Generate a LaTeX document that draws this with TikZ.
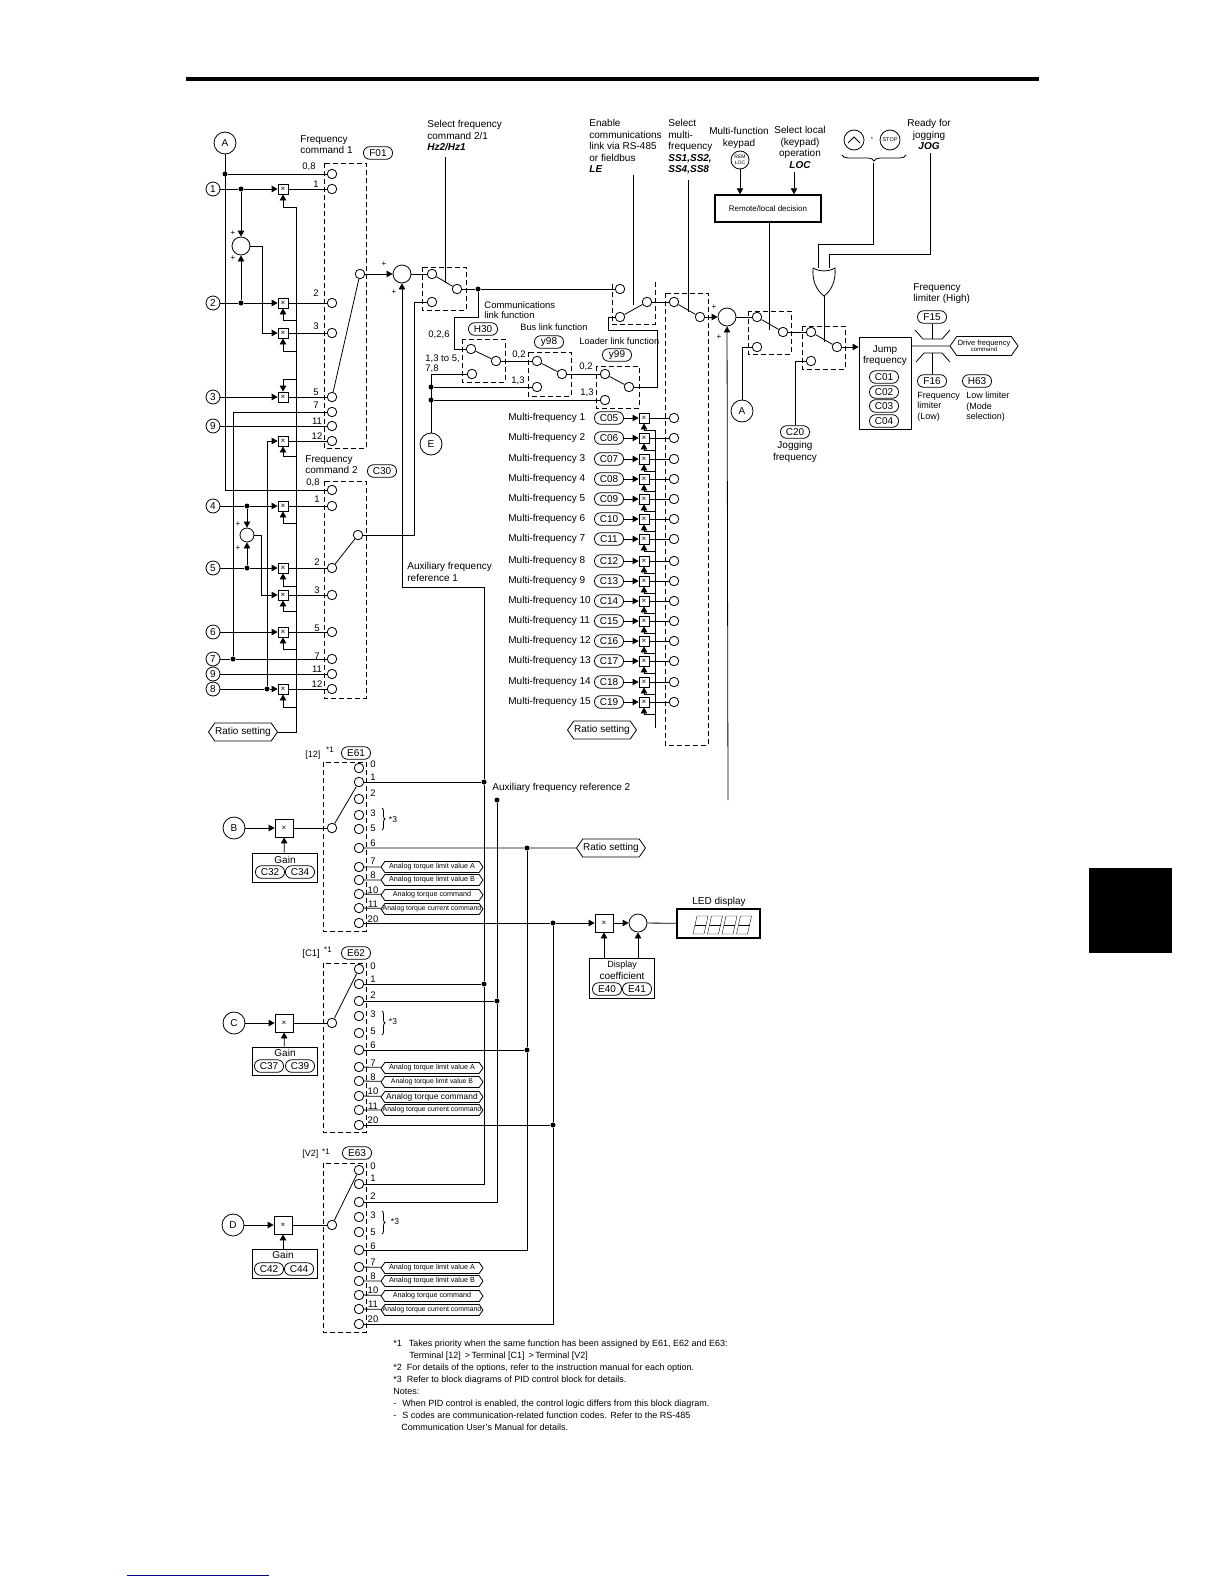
\documentclass[tikz,border=0pt]{standalone}
\usepackage{fontspec}
\setmainfont{Liberation Sans}
\usetikzlibrary{arrows.meta,shapes.symbols,decorations.pathreplacing}
\definecolor{footblue}{RGB}{0,0,140}
\tikzset{
  tip/.style={-{Triangle[length=6pt,width=6.5pt]}},
  swbox/.style={dash pattern=on 5pt off 3pt},
  port/.style={draw,circle,minimum size=9.5pt,inner sep=0pt},
  term/.style={draw,circle,minimum size=14pt,inner sep=0pt},
  keyc/.style={draw,circle,minimum size=22pt,inner sep=0pt},
  sumpt/.style={draw,circle,minimum size=18pt,inner sep=0pt},
  dot/.style={fill,circle,minimum size=5pt,inner sep=0pt},
  mulbox/.style={draw,minimum size=10pt,inner sep=0pt,font=\fontsize{8}{8}\selectfont},
  bigmul/.style={mulbox,minimum size=18pt},
  fcode/.style={draw,rounded corners=6pt,minimum width=29pt,minimum height=12.5pt,inner sep=0pt},
  hexl/.style={draw,signal,signal to=west and east,signal pointer angle=110,minimum width=102pt,minimum height=11pt,inner sep=0pt},
  hexr/.style={hexl,minimum width=69pt,minimum height=18pt},
  lab/.style={inner sep=0pt,align=left,anchor=north west},
  cab/.style={inner sep=0pt,align=center},
  num/.style={inner sep=0pt,font=\fontsize{9.5}{9.5}\selectfont},
  plus/.style={inner sep=0pt,font=\fontsize{8}{8}\selectfont},
  every node/.append style={font=\fontsize{10}{11.5}\selectfont}
}
\begin{document}
\begin{tikzpicture}[x=1pt,y=-1pt,thick]
\useasboundingbox (0,0) rectangle (1224,1584);
\draw[line width=4pt] (186,79) -- (1039,79);
\fill (1089,868) rectangle (1172,953);
\draw[footblue,line width=1pt] (127,1575) -- (269,1575);
% dashed switch frames
\draw[swbox] (324,163) rectangle (366,448);
\draw[swbox] (324,481) rectangle (366,698);
\draw[swbox] (323,762) rectangle (366,931);
\draw[swbox] (323,963) rectangle (366,1132);
\draw[swbox] (323,1163) rectangle (366,1332);
\draw[swbox] (422,267) rectangle (466,310);
\draw[swbox] (462,339) rectangle (505,382);
\draw[swbox] (528,352) rectangle (571,396);
\draw[swbox] (596,366) rectangle (639,408);
\draw[swbox] (655,282) -- (655,324) -- (612,324) -- (612,282);
\draw[swbox] (665,293) rectangle (708,745);
\draw[swbox] (748,311) rectangle (791,354);
\draw[swbox] (802,326) rectangle (845,369);

% frequency command 1
\node[keyc] (A1) at (225,143) {A};
\node[lab] (lblFa) at (300,135) {Frequency\\command 1};
\node[fcode] (F01) at (378,153) {F01};
\foreach \n/\y/\lx/\ly/\t in {8/174/309/167/{0,8},1/189/316/184/1,2/303/316/293/2,3/333/316/326/3,5/397/316/392/5,7/412/316/405/7,11/426/317/421/11,12/441/317/436/12} {
  \node[port] (f\n) at (332,\y) {};
  \node[num] (ft\n) at (\lx,\ly) {\t};
}
\node[port] (fsel) at (360,274) {};
\foreach \n/\y in {1/189,2/303,3/397,9/426} \node[term] (T\n) at (213,\y) {\n};
\foreach \n/\y in {1/189,2/303,3/333,5/397,12/441} \node[mulbox] (m\n) at (283,\y) {×};
\node[dot] (dA) at (225,174) {};
\node[dot] (d1) at (241,189) {};
\node[dot] (d2) at (241,303) {};
\node[sumpt] (S1) at (241,246) {};
\node[plus] (pa) at (233,233) {+};
\node[plus] (pb) at (233,258) {+};
\coordinate (b3) at (262,333);
\draw (dA) -- (f8);
\draw (T1) -- (d1);
\draw[tip] (d1) -- (m1);
\draw (m1) -- (f1);
\draw[tip] (d1) -- (S1);
\draw[tip] (d2) -- (S1);
\draw (T2) -- (d2);
\draw[tip] (d2) -- (m2);
\draw (m2) -- (f2);
\draw[tip] (S1) -| (b3) -- (m3);
\draw (m3) -- (f3);
\draw[tip] (T3) -- (m5);
\draw (m5) -- (f5);
\draw (T9) -- (f11);
\draw (m12) -- (f12);
\draw (f5) -- (fsel);

% frequency command 2
\node[lab] (lblFb) at (305,455) {Frequency\\command 2};
\node[fcode] (C30) at (382,471) {C30};
\foreach \n/\y/\lx/\ly/\t in {8/490/313/483/{0,8},1/506/317/499/1,2/568/317/562/2,3/595/317/590/3,5/632/317/628/5,7/659/317/656/7,11/674/317/669/11,12/689/317/684/12} {
  \node[port] (c\n) at (332,\y) {};
  \node[num] (ct\n) at (\lx,\ly) {\t};
}
\node[port] (csel) at (358,535) {};
\foreach \n/\y/\t in {4/506/4,5/568/5,6/632/6,7/659/7,10/674/9,8/689/8} \node[term] (T\n) at (213,\y) {\t};
\foreach \n/\y in {1/506,2/568,3/595,5/632,12/689} \node[mulbox] (n\n) at (283,\y) {×};
\node[dot] (d4) at (247,506) {};
\node[dot] (d5) at (247,568) {};
\node[dot] (d7) at (233,659) {};
\node[dot] (d8) at (267,689) {};
\node[sumpt,minimum size=14pt] (S2) at (247,535) {};
\node[plus] (pc) at (238,524) {+};
\node[plus] (pd) at (238,548) {+};
\coordinate (b4) at (261,595);
\coordinate (b7) at (233,412);
\coordinate (b12) at (267,441);
\draw (A1) |- (c8);
\draw (T4) -- (d4);
\draw[tip] (d4) -- (n1);
\draw (n1) -- (c1);
\draw[tip] (d4) -- (S2);
\draw[tip] (d5) -- (S2);
\draw (T5) -- (d5);
\draw[tip] (d5) -- (n2);
\draw (n2) -- (c2);
\draw[tip] (S2) -| (b4) -- (n3);
\draw (n3) -- (c3);
\draw[tip] (T6) -- (n5);
\draw (n5) -- (c5);
\draw (T7) -- (d7) -- (c7);
\draw (d7) -- (b7) -- (f7);
\draw (T10) -- (c11);
\draw (T8) -- (d8);
\draw[tip] (d8) -- (n12);
\draw (n12) -- (c12);
\draw (d8) -- (b12);
\draw[tip] (b12) -- (m12);
\draw (c2) -- (csel);

% ratio setting bus
\node[hexr] (ratL) at (243,732) {Ratio setting};
\foreach \m/\y in {m1/207,m2/320,m3/351,m5/379,m12/456,n1/523,n2/586,n3/611,n5/649,n12/707} {
  \coordinate (\m s) at (296,\y);
  \draw[tip] (\m s) -| (\m);
}
\draw (ratL) -| (m1s);

% summing point and command 2/1 switch
\node[sumpt] (S3) at (402,274) {};
\node[plus] (pe) at (384,264) {+};
\node[plus] (pf) at (394,292) {+};
\node[port] (swa) at (432,274) {};
\node[port] (swb) at (432,302) {};
\node[port] (swo) at (457,289) {};
\node[dot] (d3) at (478,289) {};
\node[lab] (lblHz) at (427,120) {Select frequency\\command 2/1\\\textbf{\textit{Hz2/Hz1}}};
\coordinate (hzt) at (445,157);
\coordinate (hzb) at (445,283);
\coordinate (b8) at (414,302);
\coordinate (aux1) at (484,587);
\coordinate (aux1b) at (402,587);
\node[lab] (lblAx) at (407,562) {Auxiliary frequency\\reference 1};
\draw[tip] (fsel) -- (S3);
\draw (S3) -- (swa);
\draw (swa) -- (swo);
\draw (hzt) -- (hzb);
\draw (csel) -| (b8) -- (swb);

% link function switches
\node[port] (h30a) at (471,349) {};
\node[port] (h30b) at (472,374) {};
\node[port] (h30o) at (496,361) {};
\node[port] (y98a) at (537,361) {};
\node[port] (y98b) at (537,387) {};
\node[port] (y98o) at (562,374) {};
\node[port] (y99a) at (605,374) {};
\node[port] (y99b) at (605,400) {};
\node[port] (y99o) at (629,387) {};
\node[port] (lea) at (620,289) {};
\node[port] (leb) at (620,317) {};
\node[port] (leo) at (647,302) {};
\node[keyc] (E) at (431,444) {E};
\node[dot] (d9) at (431,387) {};
\node[dot] (d10) at (431,400) {};
\node[fcode] (H30) at (483,329) {H30};
\node[fcode] (y98) at (549,342) {y98};
\node[fcode] (y99) at (617,355) {y99};
\node[lab,font=\fontsize{9.5}{10}\selectfont] (lblCm) at (484,301) {Communications\\link function};
\node[lab,font=\fontsize{9.2}{10}\selectfont] (lblBu) at (520,323) {Bus link function};
\node[lab,font=\fontsize{9.2}{10}\selectfont] (lblLo) at (579,337) {Loader link function};
\node[num] (tx1) at (439,335) {0,2,6};
\node[lab,font=\fontsize{9.5}{10}\selectfont] (tx2) at (425,354) {1,3 to 5,\\7,8};
\node[num] (tx3) at (519,355) {0,2};
\node[num] (tx4) at (518,381) {1,3};
\node[num] (tx5) at (586,367) {0,2};
\node[num] (tx6) at (587,393) {1,3};
\coordinate (b5) at (454,317);
\coordinate (b6) at (657,330);
\coordinate (b9) at (608,330);
\draw (swo) -- (d3) -- (lea);
\draw (d3) |- (b5) |- (h30a);
\draw (h30a) -- (h30o);
\draw (h30o) -- (y98a);
\draw (y98a) -- (y98o);
\draw (y98o) -- (y99a);
\draw (y99a) -- (y99o);
\draw (y99o) -| (b6) -- (b9) |- (leb);
\draw (E) |- (h30b);
\draw (d9) -- (y98b);
\draw (d10) -- (y99b);
\draw (leb) -- (leo);

% multi-frequency table
\foreach \i/\c/\y in {1/C05/418,2/C06/438,3/C07/459,4/C08/479,5/C09/499,6/C10/519,7/C11/539,8/C12/561,9/C13/581,10/C14/601,11/C15/621,12/C16/641,13/C17/661,14/C18/682,15/C19/702} {
  \node[inner sep=0pt,anchor=west] (mfl\i) at (508,\y) {Multi-frequency \i};
  \node[fcode] (mfc\i) at (609,\y) {\c};
  \node[mulbox] (mfx\i) at (644,\y) {×};
  \node[port] (mfp\i) at (674,\y) {};
  \coordinate (mfs\i) at (655,\y+12);
  \draw[tip] (mfc\i) -- (mfx\i);
  \draw (mfx\i) -- (mfp\i);
  \draw[tip] (mfs\i) -| (mfx\i);
}
\coordinate (mft) at (655,430);
\coordinate (mfb) at (655,728);
\draw (mft) -- (mfb);
\node[hexr] (ratM) at (602,730) {Ratio setting};

% top inputs
\node[lab] (lblLE) at (589,119) {Enable\\communications\\link via RS-485\\or fieldbus\\\textbf{\textit{LE}}};
\node[lab] (lblSS) at (668,119) {Select\\multi-\\frequency\\\textbf{\textit{SS1,SS2,}}\\\textbf{\textit{SS4,SS8}}};
\node[cab,anchor=north] (lblKy) at (739,127) {Multi-function\\keypad};
\node[draw,circle,minimum size=18pt,inner sep=0pt,cab,draw,font=\fontsize{5}{5.5}\selectfont] (rem) at (740,160) {REM\\LOC};
\node[cab,anchor=north] (lblLc) at (800,126) {Select local\\(keypad)\\operation\\\textbf{\textit{LOC}}};
\node[draw,line width=1.5pt,minimum width=106pt,minimum height=27pt,inner sep=0pt,font=\fontsize{8}{8}\selectfont] (remote) at (768,208.5) {Remote/local decision};
\node[draw,circle,minimum size=20pt,inner sep=0pt] (upkey) at (854,140) {};
\node[inner sep=0pt] (comma) at (872,139) {,};
\node[draw,circle,minimum size=20pt,inner sep=0pt,font=\fontsize{5.5}{5.5}\selectfont] (stopkey) at (890,140) {STOP};
\draw (upkey.center)+(-6,3) -- +(0,-3) -- +(6,3);
\node[cab,anchor=north] (lblJg) at (929,119) {Ready for\\jogging\\\textbf{\textit{JOG}}};
\coordinate (lct) at (794,172);
\coordinate (let) at (633,175);
\coordinate (leb2) at (633,305);
\coordinate (sst) at (688,180);
\coordinate (ssb) at (688,312);
\draw[tip] (rem) -- (remote.north -| rem);
\draw[tip] (lct) -- (remote.north -| lct);
\draw (let) -- (leb2);
\draw (sst) -- (ssb);

% multi-frequency selector and output switches
\node[port] (ssa) at (674,302) {};
\node[port] (sso) at (700,317) {};
\node[sumpt] (S4) at (727,317) {};
\node[plus] (pg) at (714,307) {+};
\node[plus] (ph) at (719,337) {+};
\node[port] (tra) at (757,317) {};
\node[port] (trb) at (757,347) {};
\node[port] (tro) at (783,332) {};
\node[port] (joa) at (811,332) {};
\node[port] (job) at (811,361) {};
\node[port] (joo) at (837,347) {};
\node[keyc] (A2) at (742,411) {A};
\node[fcode] (C20) at (795,432) {C20};
\node[cab,anchor=north] (lblJf) at (795,441) {Jogging\\frequency};
\coordinate (trl) at (769,330);
\coordinate (jol) at (824,342);
\coordinate (oro) at (824,296);
\coordinate (ora) at (818,268);
\coordinate (orb) at (829,268);
\coordinate (ora1) at (818,244);
\coordinate (ora2) at (873,244);
\coordinate (orb1) at (829,254);
\coordinate (orb2) at (930,254);
\coordinate (jgt) at (930,153);
\coordinate (brl) at (842,155);
\coordinate (brr) at (906,155);
\coordinate (brt) at (873,163);
\coordinate (aux2) at (728,800);
\draw (813,268) .. controls (820,272) and (828,272) .. (835,268) .. controls (836,280) and (832,290) .. (824,296) .. controls (816,290) and (812,280) .. (813,268);
\draw[decorate,decoration={brace,mirror,amplitude=6pt}] (brl) -- (brr);
\draw (leo) -- (ssa);
\draw (ssa) -- (sso);
\draw[tip] (sso) -- (S4);
\draw (S4) -- (tra);
\draw (tra) -- (tro);
\draw (tro) -- (joa);
\draw (joa) -- (joo);
\draw (remote.south -| trl) -- (trl);
\draw (oro) -- (jol);
\draw (ora) -- (ora1) -- (ora2) -- (brt);
\draw (orb) -- (orb1) -- (orb2) -- (jgt);
\draw (A2) |- (trb);
\draw (C20) |- (job);
\draw[tip] (aux2) -- (S4);

% jump frequency and limiters
\node[draw,minimum width=52pt,minimum height=92pt,inner sep=0pt] (jump) at (885,383) {};
\node[cab,anchor=north] (lblJp) at (885,345) {Jump\\frequency};
\foreach \c/\y in {C01/377,C02/392,C03/406,C04/421} \node[fcode] (\c) at (884,\y) {\c};
\node[hexr,minimum width=68pt,minimum height=19pt,cab,font=\fontsize{7.5}{6.5}\selectfont] (drive) at (984,346) {Drive frequency\\{\fontsize{6}{6.5}\selectfont command}};
\node[fcode] (F15) at (932,317) {F15};
\node[fcode] (F16) at (932,381) {F16};
\node[fcode] (H63) at (977,381) {H63};
\node[lab] (lblHi) at (913,283) {Frequency\\limiter (High)};
\node[lab,font=\fontsize{9}{10.4}\selectfont] (lblLw) at (917,392) {Frequency\\limiter\\(Low)};
\node[lab,font=\fontsize{9}{10.4}\selectfont] (lblMd) at (966,392) {Low limiter\\(Mode\\selection)};
\coordinate (limh) at (932,339);
\coordinate (liml) at (932,353);
\draw (915,330) -- (923,339) -- (942,339) -- (950,330);
\draw (916,362) -- (924,353) -- (942,353) -- (950,362);
\draw (F15) -- (limh);
\draw (F16) -- (liml);
\draw[tip] (joo) -- (jump.west |- joo);
\draw (jump.east |- drive) -- (drive);

% analog input E61
\node[lab,font=\fontsize{9}{9}\selectfont] (lblE1) at (305,751) {[12]};
\node[plus] (stE1) at (330,750) {*1};
\node[fcode] (E61) at (356,753) {E61};
\foreach \v/\y/\ly in {0/768/764,1/782/777,2/799/793,3/815/813,5/829/828,6/848/843,7/867/861,8/880/875,10/894/890,11/908/904,20/923/919} {
  \node[port] (ea\v) at (359,\y) {};
  \node[num] (eat\v) at (373,\ly) {\v};
}
\node[keyc] (B) at (234,828) {B};
\node[bigmul] (mB) at (284,828) {×};
\node[port] (eas) at (332,828) {};
\node[draw,minimum width=65pt,minimum height=29pt,inner sep=0pt] (gainB) at (284.5,867.5) {};
\node[inner sep=0pt] (lblGb) at (285,860) {Gain};
\node[fcode] (C32) at (270,872) {C32};
\node[fcode] (C34) at (300,872) {C34};
\coordinate (brAt) at (382,808);
\coordinate (brAb) at (382,830);
\node[plus,font=\fontsize{8.5}{8.5}\selectfont] (stA3) at (393,820) {*3};
\draw[decorate,decoration={brace,amplitude=3pt}] (brAt) -- (brAb);
\draw[tip] (B) -- (mB);
\draw[tip] (gainB) -- (mB);
\draw (mB) -- (eas);
\draw (eas) -- (ea1);
\foreach \v/\y/\t/\s in {7/867/Analog torque limit value A/7.2,8/880/Analog torque limit value B/7.2,10/895/Analog torque command/7.2,11/909/Analog torque current command/6.9} {
  \node[hexl,font=\fontsize{\s}{\s}\selectfont] (eah\v) at (432,\y) {\makebox[70pt]{\t}};
  \draw (ea\v) -- (eah\v);
}

% analog input E62
\node[lab,font=\fontsize{9.5}{9.5}\selectfont] (lblE2) at (302,949) {[C1]};
\node[plus] (stE2) at (328,950) {*1};
\node[fcode] (E62) at (356,953) {E62};
\foreach \v/\y/\ly in {0/969/966,1/984/979,2/1001/995,3/1016/1014,5/1033/1031,6/1050/1045,7/1067/1063,8/1081/1077,10/1096/1091,11/1110/1106,20/1125/1120} {
  \node[port] (eb\v) at (359,\y) {};
  \node[num] (ebt\v) at (373,\ly) {\v};
}
\node[keyc] (Cc) at (234,1023) {C};
\node[bigmul] (mC) at (284,1023) {×};
\node[port] (ebs) at (332,1023) {};
\node[draw,minimum width=65pt,minimum height=28pt,inner sep=0pt] (gainC) at (284.5,1061) {};
\node[inner sep=0pt] (lblGc) at (285,1053) {Gain};
\node[fcode] (C37) at (269,1066) {C37};
\node[fcode] (C39) at (300,1066) {C39};
\coordinate (brBt) at (382,1011);
\coordinate (brBb) at (382,1035);
\node[plus,font=\fontsize{8.5}{8.5}\selectfont] (stB3) at (393,1022) {*3};
\draw[decorate,decoration={brace,amplitude=3pt}] (brBt) -- (brBb);
\draw[tip] (Cc) -- (mC);
\draw[tip] (gainC) -- (mC);
\draw (mC) -- (ebs);
\draw (ebs) -- (eb0);
\foreach \v/\y/\t/\s in {7/1068/Analog torque limit value A/7.2,8/1082/Analog torque limit value B/6.9,10/1097/Analog torque command/8.4,11/1110/Analog torque current command/6.9} {
  \node[hexl,font=\fontsize{\s}{\s}\selectfont] (ebh\v) at (432,\y) {\makebox[70pt]{\t}};
  \draw (eb\v) -- (ebh\v);
}

% analog input E63
\node[lab,font=\fontsize{9}{9}\selectfont] (lblE3) at (302,1150) {[V2]};
\node[plus] (stE3) at (326,1152) {*1};
\node[fcode] (E63) at (357,1153) {E63};
\foreach \v/\y/\ly in {0/1170/1166,1/1184/1178,2/1202/1196,3/1217/1215,5/1232/1232,6/1250/1246,7/1267/1262,8/1281/1276,10/1295/1290,11/1309/1304,20/1324/1319} {
  \node[port] (ec\v) at (359,\y) {};
  \node[num] (ect\v) at (373,\ly) {\v};
}
\node[keyc] (D) at (233,1225) {D};
\node[bigmul] (mD) at (283,1225) {×};
\node[port] (ecs) at (332,1225) {};
\node[draw,minimum width=65pt,minimum height=29pt,inner sep=0pt] (gainD) at (284.5,1263.5) {};
\node[inner sep=0pt] (lblGd) at (283,1255) {Gain};
\node[fcode] (C42) at (269,1269) {C42};
\node[fcode] (C44) at (299,1269) {C44};
\coordinate (brCt) at (382,1211);
\coordinate (brCb) at (382,1234);
\node[plus,font=\fontsize{8.5}{8.5}\selectfont] (stC3) at (395,1222) {*3};
\draw[decorate,decoration={brace,amplitude=3pt}] (brCt) -- (brCb);
\draw[tip] (D) -- (mD);
\draw[tip] (gainD.north -| mD) -- (mD);
\draw (mD) -- (ecs);
\draw (ecs) -- (ec0);
\foreach \v/\y/\t/\s in {7/1268/Analog torque limit value A/7.2,8/1281/Analog torque limit value B/7.2,10/1296/Analog torque command/7.2,11/1310/Analog torque current command/6.9} {
  \node[hexl,font=\fontsize{\s}{\s}\selectfont] (ech\v) at (432,\y) {\makebox[70pt]{\t}};
  \draw (ec\v) -- (ech\v);
}

% busses from the analog inputs
\node[dot] (dE1) at (484,782) {};
\node[dot] (dE2) at (484,984) {};
\node[dot] (dF1) at (497,800) {};
\node[dot] (dF2) at (497,1001) {};
\node[dot] (dG1) at (527,848) {};
\node[dot] (dG2) at (527,1050) {};
\node[dot] (dH1) at (553,923) {};
\node[dot] (dH2) at (553,1125) {};
\node[lab] (lblAy) at (492,783) {Auxiliary frequency reference 2};
\node[hexr] (ratR) at (611,848) {Ratio setting};
\draw (ea1) -- (dE1);
\draw (eb1) -- (dE2);
\draw (ec1) -| (dE2) -- (dE1);
\draw[tip] (dE1) -- (aux1) -- (aux1b) -- (S3);
\draw (eb2) -- (dF2);
\draw (ec2) -| (dF2) -- (dF1);
\draw (ea6) -- (dG1) -- (ratR);
\draw (eb6) -- (dG2);
\draw (ec6) -| (dG2) -- (dG1);
\draw (ea20) -- (dH1);
\draw (eb20) -- (dH2);
\draw (ec20) -| (dH2) -- (dH1);

% LED monitor
\node[bigmul] (mL) at (604,923) {×};
\node[sumpt] (S5) at (638,923) {};
\node[draw,line width=1.2pt,minimum width=83pt,minimum height=29pt,inner sep=0pt] (led) at (718.5,923.5) {};
\node[inner sep=0pt] (lblLd) at (719,902) {LED display};
\node[draw,minimum width=65pt,minimum height=40pt,inner sep=0pt] (disp) at (621.5,978) {};
\node[cab,anchor=north] (lblDs) at (622,961) {{\fontsize{9}{10}\selectfont Display}\\coefficient};
\node[fcode] (E40) at (607,989) {E40};
\node[fcode] (E41) at (637,989) {E41};
\coordinate (dsa) at (604,958);
\coordinate (dsb) at (638,958);
\draw[tip] (dH1) -- (mL);
\draw[tip] (mL) -- (S5);
\draw (S5) -- (led);
\draw[tip] (dsa) -- (mL);
\draw[tip] (dsb) -- (S5);
\foreach \i [evaluate=\i as \x using 693+14.5*\i] in {0,...,3} {
  \draw[thin] (\x,934) -- (\x+4,916) -- (\x+15,916) -- (\x+11,934) -- cycle;
  \draw[thin] (\x+2,925) -- (\x+13,925);
}

% footnotes
\node[lab,font=\fontsize{9}{11.9}\selectfont] (notes) at (393,1340) {*1\hspace{7pt}Takes priority when the same function has been assigned by E61, E62 and E63:\\
\hspace*{16pt}Terminal [12] \,>\,Terminal [C1] \,>\,Terminal [V2]\\
*2\hspace{5pt}For details of the options, refer to the instruction manual for each option.\\
*3\hspace{5pt}Refer to block diagrams of PID control block for details.\\
Notes:\\
-\hspace{6pt}When PID control is enabled, the control logic differs from this block diagram.\\
-\hspace{6pt}S codes are communication-related function codes. Refer to the RS-485\\
\hspace*{8pt}Communication User's Manual for details.};
\end{tikzpicture}
\end{document}
